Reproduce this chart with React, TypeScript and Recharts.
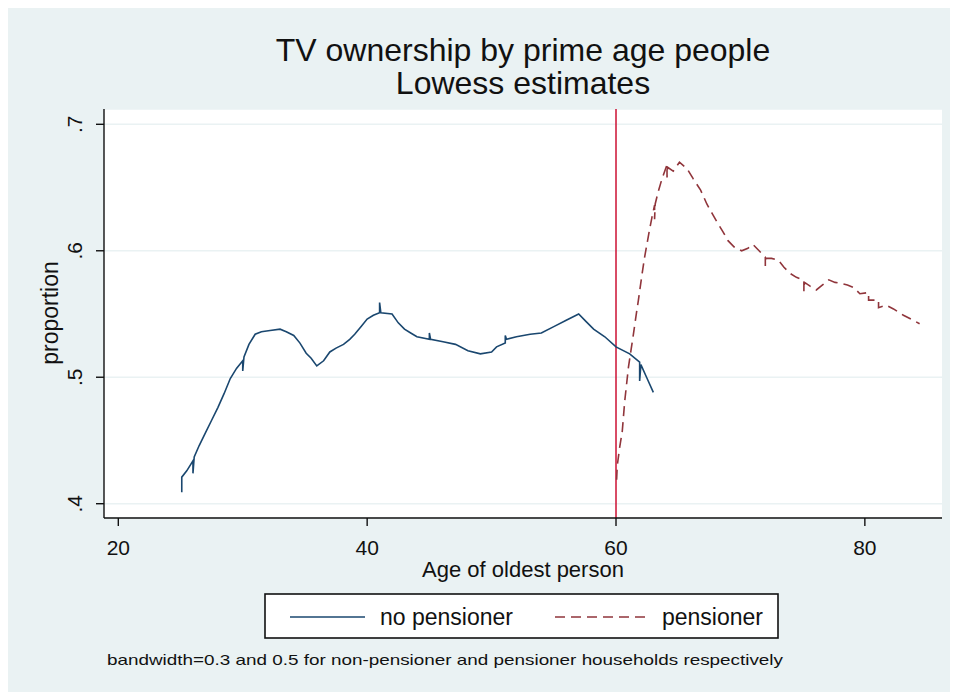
import { LineChart, Line, XAxis, YAxis, CartesianGrid, ReferenceLine } from "recharts";

// lowess fit, households without a pensioner
const ageNoPension = [
  25.1, 25.1, 25.5, 26.0, 26.0, 26.1, 26.5, 27.0, 27.5, 28.0, 28.5, 29.0, 29.5,
  30.0, 30.0, 30.1, 30.5, 31.0, 31.5, 32.2, 33.0, 33.5, 34.1, 34.6, 35.1, 35.5,
  35.95, 36.5, 37.0, 37.5, 38.1, 38.6, 39.0, 39.5, 40.0, 40.5, 41.0, 41.0, 41.1,
  42.0, 42.5, 43.0, 43.5, 44.0, 45.0, 45.0, 45.1, 46.1, 47.1, 48.1, 49.1, 50.0,
  50.4, 51.1, 51.1, 51.2, 52.0, 53.1, 54.0, 55.0, 56.0, 57.0, 57.6, 58.2, 59.1,
  60.0, 61.1, 61.9, 61.9, 62.0, 62.5, 63.0,
];
const propNoPension = [
  0.409, 0.421, 0.426, 0.434, 0.424, 0.437, 0.446, 0.456, 0.466, 0.476, 0.487,
  0.499, 0.507, 0.513, 0.505, 0.516, 0.526, 0.534, 0.536, 0.537, 0.538, 0.536,
  0.533, 0.527, 0.519, 0.515, 0.509, 0.513, 0.52, 0.523, 0.526, 0.53, 0.534,
  0.54, 0.546, 0.549, 0.551, 0.559, 0.551, 0.55, 0.543, 0.538, 0.535, 0.532,
  0.53, 0.535, 0.53, 0.528, 0.526, 0.521, 0.5185, 0.52, 0.524, 0.527, 0.533,
  0.53, 0.532, 0.534, 0.535, 0.54, 0.545, 0.55, 0.544, 0.538, 0.532, 0.524,
  0.5185, 0.512, 0.497, 0.51, 0.499, 0.488,
];

// lowess fit, pensioner households
const agePension = [
  60.05, 60.1, 60.3, 60.5, 60.7, 61.0, 61.2, 61.4, 61.6, 61.8, 62.1, 62.3, 62.5,
  62.7, 62.9, 63.1, 63.1, 63.15, 63.4, 63.7, 64.1, 64.1, 64.15, 64.6, 65.1, 65.7,
  66.2, 66.8, 67.3, 67.7, 68.1, 68.6, 69.0, 69.5, 70.1, 70.6, 71.0, 71.5, 72.0,
  72.0, 72.05, 72.5, 73.05, 73.5, 74.0, 74.5, 75.1, 75.1, 75.15, 75.6, 76.1,
  76.6, 77.1, 77.6, 78.2, 78.6, 79.1, 79.6, 80.3, 80.3, 81.1, 81.1, 81.7, 82.3,
  83.1, 83.7, 84.4,
];
const propPension = [
  0.419, 0.43, 0.445, 0.457, 0.481, 0.508, 0.521, 0.534, 0.548, 0.561, 0.582,
  0.595, 0.606, 0.617, 0.627, 0.636, 0.625, 0.637, 0.647, 0.657, 0.668, 0.658,
  0.666, 0.663, 0.67, 0.665, 0.657, 0.648, 0.637, 0.63, 0.623, 0.615, 0.608,
  0.603, 0.6, 0.602, 0.605, 0.6, 0.595, 0.588, 0.594, 0.594, 0.5925, 0.587,
  0.582, 0.579, 0.5766, 0.568, 0.575, 0.572, 0.569, 0.573, 0.577, 0.575, 0.574,
  0.573, 0.571, 0.566, 0.567, 0.561, 0.561, 0.555, 0.557, 0.554, 0.549, 0.546,
  0.5423,
];

const xTicks = [20, 40, 60, 80];
const yTicks = [0.4, 0.5, 0.6, 0.7];
const pensionAge = 60;

const NAVY = "#1a476f";
const MAROON = "#90353b";
const CUTOFF = "#cc1133";
const BG = "#eaf2f3";
const INK = "#111";
const FONT = '"Liberation Sans", Arial, sans-serif';

const noPensionData = ageNoPension.map((age, i) => ({ age, prop: propNoPension[i] }));
const pensionData = agePension.map((age, i) => ({ age, prop: propPension[i] }));

const fmtProp = (v: number) => v.toFixed(1).replace(/^0/, "");

const XTick = ({ x, y, payload }: any) => (
  <text x={x} y={y + 29} textAnchor="middle" fontSize={21} fill={INK} fontFamily={FONT}>
    {payload.value}
  </text>
);

const YTick = ({ x, y, payload }: any) => {
  const cx = x - 21;
  return (
    <text
      x={cx}
      y={y}
      transform={`rotate(-90, ${cx}, ${y})`}
      textAnchor="middle"
      dominantBaseline="central"
      fontSize={21}
      fill={INK}
      fontFamily={FONT}
    >
      {fmtProp(payload.value)}
    </text>
  );
};

export default function App() {
  return (
    <div
      style={{
        position: "relative",
        width: 950,
        height: 685,
        marginTop: -1,
        background: BG,
        fontFamily: FONT,
      }}
    >
      <LineChart
        width={950}
        height={685}
        margin={{ top: 102, right: 16, bottom: 114, left: 36 }}
      >
        <CartesianGrid vertical={false} stroke={BG} strokeWidth={1.5} fill="#fff" />
        <XAxis
          type="number"
          dataKey="age"
          domain={[18.85, 86.2]}
          ticks={xTicks}
          height={60}
          tickSize={8}
          tickMargin={0}
          tick={<XTick />}
          axisLine={{ stroke: INK, strokeWidth: 1.4 }}
          tickLine={{ stroke: INK, strokeWidth: 1.4 }}
          allowDataOverflow
        />
        <YAxis
          type="number"
          domain={[0.3887, 0.7121]}
          ticks={yTicks}
          width={60}
          tickSize={8}
          tickMargin={0}
          tick={<YTick />}
          axisLine={{ stroke: INK, strokeWidth: 1.4 }}
          tickLine={{ stroke: INK, strokeWidth: 1.4 }}
          allowDataOverflow
        />
        <ReferenceLine x={pensionAge} stroke={CUTOFF} strokeWidth={1.5} />
        <Line
          data={noPensionData}
          dataKey="prop"
          type="linear"
          stroke={NAVY}
          strokeWidth={1.6}
          dot={false}
          isAnimationActive={false}
        />
        <Line
          data={pensionData}
          dataKey="prop"
          type="linear"
          stroke={MAROON}
          strokeWidth={1.6}
          strokeDasharray="10 6"
          dot={false}
          isAnimationActive={false}
        />
      </LineChart>

      {/* titles, axis titles, legend and note */}
      <svg
        width={950}
        height={685}
        style={{ position: "absolute", left: 0, top: 0, pointerEvents: "none" }}
        fontFamily={FONT}
        fill={INK}
      >
        <text x={515} y={54} textAnchor="middle" fontSize={32}>
          TV ownership by prime age people
        </text>
        <text x={515} y={87} textAnchor="middle" fontSize={32}>
          Lowess estimates
        </text>
        <text
          x={42}
          y={306}
          transform="rotate(-90, 42, 306)"
          textAnchor="middle"
          dominantBaseline="central"
          fontSize={23}
        >
          proportion
        </text>
        <text x={515} y={570} textAnchor="middle" fontSize={22}>
          Age of oldest person
        </text>

        <rect x={257} y={587} width={513} height={44} fill="#fff" stroke={INK} strokeWidth={1.6} />
        <line x1={282} y1={610} x2={357} y2={610} stroke={NAVY} strokeWidth={1.6} />
        <text x={372} y={618} fontSize={23}>
          no pensioner
        </text>
        <line
          x1={547}
          y1={610}
          x2={642}
          y2={610}
          stroke={MAROON}
          strokeWidth={1.6}
          strokeDasharray="10 6"
        />
        <text x={654} y={618} fontSize={23}>
          pensioner
        </text>

        <text x={99} y={658} fontSize={15} textLength={676} lengthAdjust="spacingAndGlyphs">
          bandwidth=0.3 and 0.5 for non-pensioner and pensioner households respectively
        </text>
      </svg>
    </div>
  );
}
